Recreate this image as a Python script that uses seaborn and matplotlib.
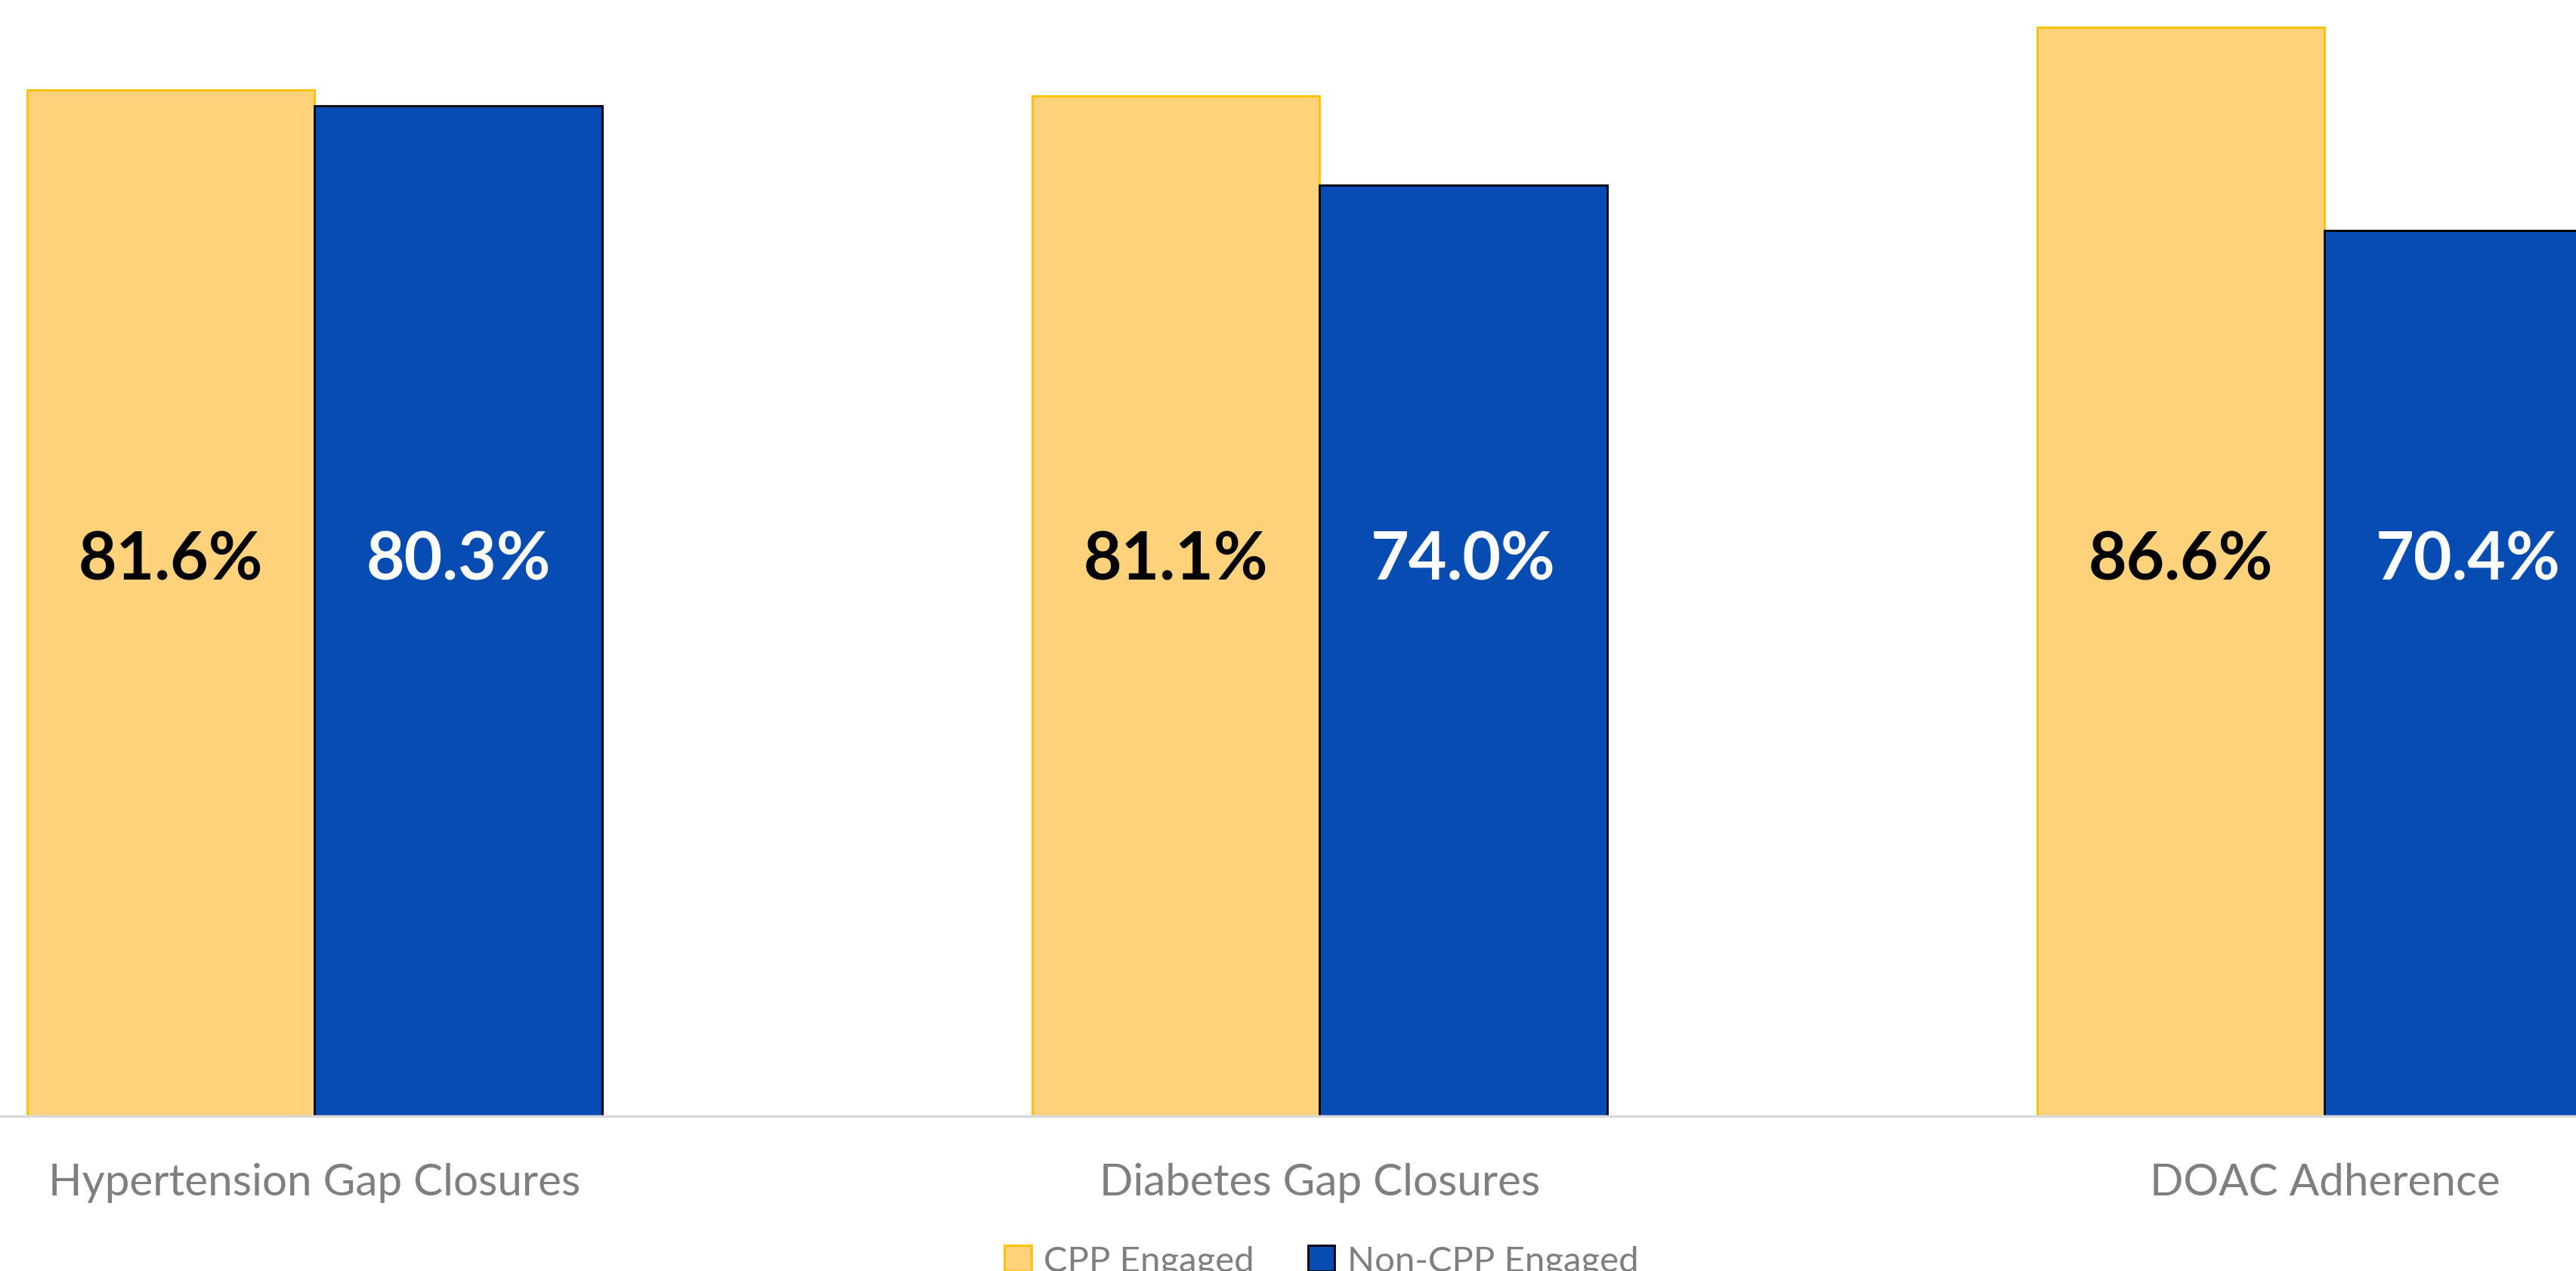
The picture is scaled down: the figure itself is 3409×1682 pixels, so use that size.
import matplotlib
matplotlib.use("Agg")
import matplotlib.pyplot as plt
from matplotlib.patches import Patch
import seaborn as sns
import pandas as pd

categories = ["Hypertension Gap Closures", "Diabetes Gap Closures", "DOAC Adherence"]
series = ["CPP Engaged", "Non-CPP Engaged"]
cpp_values = [81.6, 81.1, 86.6]
non_cpp_values = [80.3, 74.0, 70.4]

fill_colors = {"CPP Engaged": "#FED17B", "Non-CPP Engaged": "#074CB3"}
edge_colors = {"CPP Engaged": "#FFC000", "Non-CPP Engaged": "#000000"}
label_colors = {"CPP Engaged": "black", "Non-CPP Engaged": "white"}

df = pd.DataFrame({
    "category": categories * 2,
    "group": [series[0]] * 3 + [series[1]] * 3,
    "value": cpp_values + non_cpp_values,
})

sns.set_style("white")
plt.rcParams["font.family"] = ["Lato", "DejaVu Sans"]

fig = plt.figure(figsize=(34.09, 16.83), dpi=100)
ax = fig.add_axes([0, 0.1218, 1, 0.8782])

sns.barplot(
    data=df,
    x="category",
    y="value",
    hue="group",
    hue_order=series,
    palette=fill_colors,
    saturation=1,
    width=0.572,
    legend=False,
    ax=ax
)

# value labels sit at a common height inside the bars
label_height = 44.2
for container, name in zip(ax.containers, series):
    for bar, v in zip(container, container.datavalues):
        bar.set_edgecolor(edge_colors[name])
        bar.set_linewidth(2)
        ax.text(
            bar.get_x() + bar.get_width() / 2,
            label_height,
            f"{v:.1f}%",
            ha="center",
            va="center",
            fontsize=63,
            fontweight="bold",
            color=label_colors[name],
        )

ax.set_xlim(-0.313, 2.25)
ax.set_ylim(0, 88.8)
ax.set_xlabel("")
ax.set_ylabel("")
ax.set_yticks([])
ax.tick_params(axis="x", length=0, pad=44, labelsize=42, labelcolor="#7F7F7F")

for side in ["top", "right", "left"]:
    ax.spines[side].set_visible(False)
ax.spines["bottom"].set_color("#D9D9D9")
ax.spines["bottom"].set_linewidth(2.5)

handles = [
    Patch(facecolor=fill_colors[s], edgecolor=edge_colors[s], linewidth=2, label=s)
    for s in series
]
fig.legend(
    handles=handles,
    loc="center",
    bbox_to_anchor=(0.513, 0.008),
    ncol=2,
    frameon=False,
    fontsize=34,
    labelcolor="#7F7F7F",
    handlelength=0.75,
    handleheight=0.75,
    handletextpad=0.35,
    columnspacing=1.5,
)

fig.savefig("out.png", dpi=100)
plt.close(fig)
